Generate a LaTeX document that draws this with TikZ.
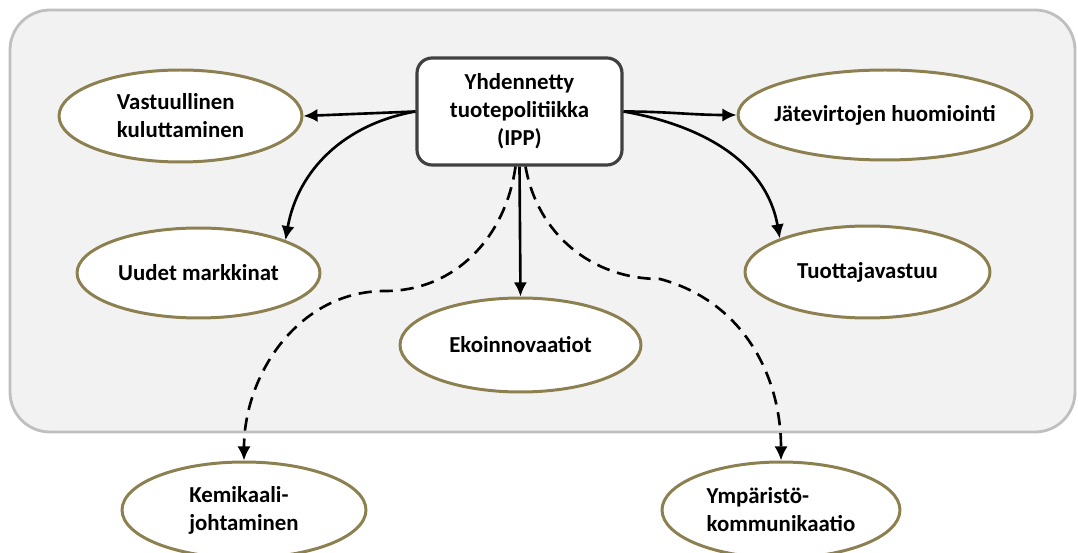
\documentclass[tikz,border=0pt]{standalone}
\usepackage{fontspec}
\setmainfont{Carlito}
\usetikzlibrary{shapes.geometric, arrows, arrows.meta}
\definecolor{olivegold}{RGB}{140,128,80}
\definecolor{hubline}{RGB}{64,64,64}
\definecolor{panelfill}{RGB}{242,242,242}
\definecolor{panelline}{RGB}{191,191,191}
\tikzstyle{panel} = [rounded corners=0.8cm, fill=panelfill, draw=panelline, line width=1.6pt]
\tikzstyle{hub} = [rectangle, rounded corners=0.3cm, minimum width=4.1cm, minimum height=2.14cm, align=center, draw=hubline, line width=1.8pt, fill=white]
\tikzstyle{oval} = [ellipse, draw=olivegold, line width=1.7pt, fill=white, inner sep=0pt]
\tikzstyle{ovaltext} = [align=left, inner sep=0pt]
\tikzstyle{arrow} = [line width=1.5pt,-{Latex[length=8pt,width=7.5pt]}]
\tikzstyle{dasharrow} = [arrow, dash pattern=on 7.5pt off 4.5pt]

\begin{document}
\begin{tikzpicture}[x=0.02cm, y=-0.02cm, font=\fontsize{13}{16}\selectfont\bfseries]
	\useasboundingbox (0,0) rectangle (1078,553);
	\draw [panel] (10,10) rectangle (1075,432);

	\node (ipp) [hub] at (519.5,111.5) {Yhdennetty\\tuotepolitiikka\\(IPP)};

	\node (vastuu) [oval, minimum width=4.86cm, minimum height=1.84cm] at (180.5,116) {};
	\node (vastuu-t) [ovaltext] at (vastuu) {Vastuullinen\\kuluttaminen};
	\node (jate) [oval, minimum width=5.88cm, minimum height=1.8cm] at (885,115) {};
	\node (jate-t) [ovaltext] at (jate) {Jätevirtojen huomiointi};
	\node (uudet) [oval, minimum width=4.86cm, minimum height=1.8cm] at (198.5,273) {};
	\node (uudet-t) [ovaltext] at (uudet) {Uudet markkinat};
	\node (tuot) [oval, minimum width=4.9cm, minimum height=1.84cm] at (867.5,272) {};
	\node (tuot-t) [ovaltext] at (tuot) {Tuottajavastuu};
	\node (eko) [oval, minimum width=4.82cm, minimum height=1.88cm] at (520.5,345) {};
	\node (eko-t) [ovaltext] at (eko) {Ekoinnovaatiot};
	\node (kem) [oval, minimum width=4.88cm, minimum height=1.92cm] at (244,510) {};
	\node (kem-t) [ovaltext] at (kem) {Kemikaali-\\johtaminen};
	\node (ymp) [oval, minimum width=4.76cm, minimum height=1.92cm] at (781,510) {};
	\node (ymp-t) [ovaltext] at (ymp) {Ympäristö-\\kommunikaatio};

	% bends of the dashed links
	\coordinate (kembend) at (385,291);
	\coordinate (ympbend) at (660,279);

	\draw [arrow] (ipp.west) -- (vastuu.east);
	\draw [arrow] (ipp.east) to[out=0,in=180] (jate.west);
	\draw [arrow] (ipp.west) to[out=190,in=80] (uudet.north east);
	\draw [arrow] (ipp.east) to[out=-10,in=100] (tuot.north west);
	\draw [arrow] (ipp.south) -- (eko.north);
	\draw [dasharrow] ([xshift=-0.08cm]ipp.south) to[out=-98,in=0] (kembend) to[out=180,in=90] (kem.north);
	\draw [dasharrow] ([xshift=0.12cm]ipp.south) to[out=-80,in=180] (ympbend) to[out=-15,in=90] (ymp.north);
\end{tikzpicture}
\end{document}
